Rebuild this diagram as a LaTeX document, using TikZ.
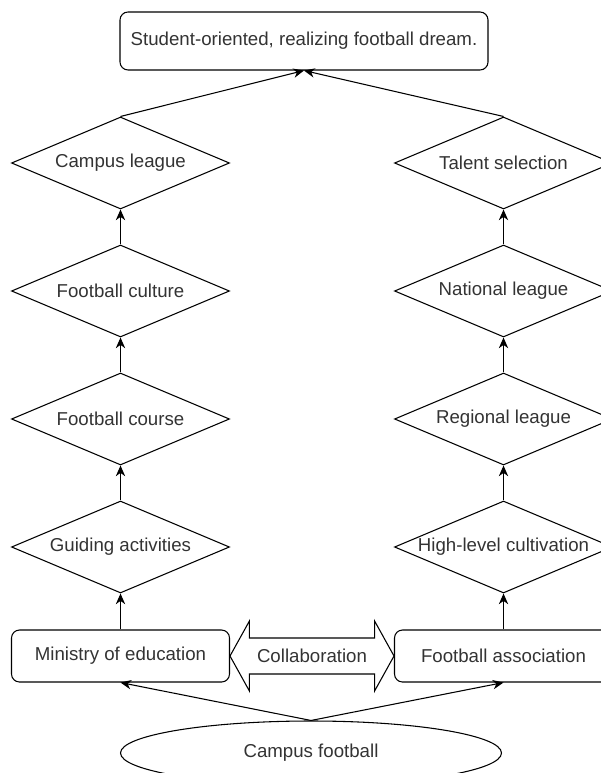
\documentclass[tikz,border=0pt]{standalone}
\usepackage{fontspec}
\setmainfont{Liberation Sans}
\usetikzlibrary{positioning, arrows.meta, shapes.geometric, shapes.arrows}
\definecolor{txtgray}{rgb}{0.2,0.2,0.2}
\tikzset{
    node distance=96pt, % Centre to centre of two stages
    every node/.style={font=\fontsize{14}{17}\selectfont, text=txtgray},
    every edge/.style={draw, -{Stealth[length=8pt,width=7pt,inset=2.5pt]}}, % Directed edges
    stage/.style={diamond, draw, shape aspect=2.37, inner sep=0pt, minimum width=163.5pt, minimum height=69pt},
    body/.style={rectangle, draw, rounded corners=6pt, minimum width=163.5pt, minimum height=39pt},
}
\begin{document}
\begin{tikzpicture}[x=0.75pt, y=-0.75pt, line width=0.8pt]
    \useasboundingbox (0,0) rectangle (600,773);

    % goal on top
    \node[body, minimum width=276pt, minimum height=43.5pt] (goal) at (304,41) {Student-oriented, realizing football dream.};

    % school side
    \node[body] (moe) at (120.5,656) {Ministry of education};
    \node[stage] (guide) [above of=moe, node distance=81.75pt] {Guiding activities};
    \node[stage] (course) [above of=guide] {Football course};
    \node[stage] (cult) [above of=course] {Football culture};
    \node[stage] (camp) [above of=cult] {Campus league};

    % football side
    \node[body] (fa) at (503.5,656) {Football association};
    \node[stage] (high) [above of=fa, node distance=81.75pt] {High-level cultivation};
    \node[stage] (region) [above of=high] {Regional league};
    \node[stage] (nation) [above of=region] {National league};
    \node[stage] (talent) [above of=nation] {Talent selection};

    % in between and below
    \node[double arrow, draw, double arrow head extend=12.75pt, double arrow tip angle=122,
          minimum height=123pt, text height=10pt, text depth=0pt, inner ysep=8.1pt] (collab) at (312,656) {Collaboration};
    \node[ellipse, draw, minimum width=285.75pt, minimum height=48pt] (cf) at (311,753) {Campus football};

    \path
        (moe) edge (guide)
        (guide) edge (course)
        (course) edge (cult)
        (cult) edge (camp)
        (camp.north) edge (goal.south)
        (fa) edge (high)
        (high) edge (region)
        (region) edge (nation)
        (nation) edge (talent)
        (talent.north) edge (goal.south)
        (cf.north) edge (moe.south)
                   edge (fa.south);
\end{tikzpicture}
\end{document}
